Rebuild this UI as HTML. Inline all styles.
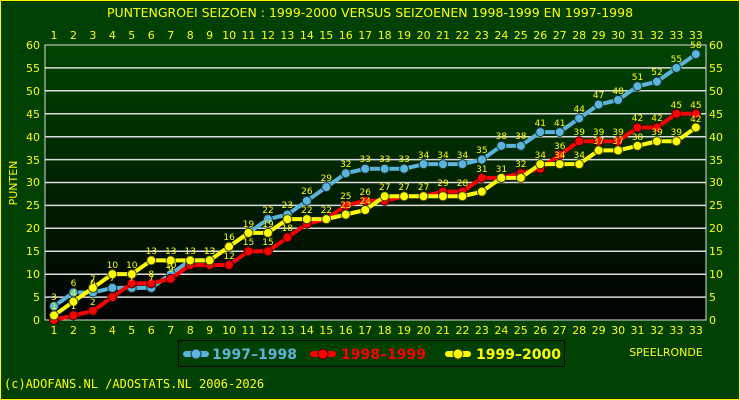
<!DOCTYPE html>
<html><head><meta charset="utf-8"><style>
body{margin:0;width:740px;height:400px;overflow:hidden;background:#004000}
svg{display:block}
text{font-family:"DejaVu Sans","Liberation Sans",sans-serif}
</style></head><body>
<svg width="740" height="400" xmlns="http://www.w3.org/2000/svg">
<defs><linearGradient id="g" x1="0" y1="0" x2="0" y2="1"><stop offset="0" stop-color="#004400"/><stop offset="1" stop-color="#000000"/></linearGradient></defs>
<rect x="0.5" y="0.5" width="739" height="399" fill="#004000" stroke="#ffff00"/>
<text x="370" y="17" fill="#ffff00" font-size="12.5" text-anchor="middle">PUNTENGROEI  SEIZOEN : 1999-2000 VERSUS SEIZOENEN 1998-1999 EN 1997-1998</text>
<rect x="45" y="45" width="661" height="275" fill="url(#g)" stroke="#dddddd"/>
<g stroke="#dddddd" stroke-width="1.5">
<line x1="45" x2="706" y1="297.1" y2="297.1"/><line x1="45" x2="706" y1="274.2" y2="274.2"/><line x1="45" x2="706" y1="251.25" y2="251.25"/><line x1="45" x2="706" y1="228.3" y2="228.3"/><line x1="45" x2="706" y1="205.4" y2="205.4"/><line x1="45" x2="706" y1="182.5" y2="182.5"/><line x1="45" x2="706" y1="159.6" y2="159.6"/><line x1="45" x2="706" y1="136.7" y2="136.7"/><line x1="45" x2="706" y1="113.75" y2="113.75"/><line x1="45" x2="706" y1="90.8" y2="90.8"/><line x1="45" x2="706" y1="67.9" y2="67.9"/>
</g>
<g fill="#ffff00" font-size="11" text-anchor="end">
<text x="40" y="324">0</text><text x="40" y="301">5</text><text x="40" y="278">10</text><text x="40" y="255">15</text><text x="40" y="232">20</text><text x="40" y="209">25</text><text x="40" y="186">30</text><text x="40" y="164">35</text><text x="40" y="141">40</text><text x="40" y="118">45</text><text x="40" y="95">50</text><text x="40" y="72">55</text><text x="40" y="49">60</text>
</g>
<g fill="#ffff00" font-size="11">
<text x="709" y="324">0</text><text x="709" y="301">5</text><text x="709" y="278">10</text><text x="709" y="255">15</text><text x="709" y="232">20</text><text x="709" y="209">25</text><text x="709" y="186">30</text><text x="709" y="164">35</text><text x="709" y="141">40</text><text x="709" y="118">45</text><text x="709" y="95">50</text><text x="709" y="72">55</text><text x="709" y="49">60</text>
</g>
<g fill="#ffff00" font-size="11" text-anchor="middle">
<text x="54" y="39">1</text><text x="73.5" y="39">2</text><text x="92.9" y="39">3</text><text x="112.4" y="39">4</text><text x="131.8" y="39">5</text><text x="151.3" y="39">6</text><text x="170.7" y="39">7</text><text x="190.2" y="39">8</text><text x="209.6" y="39">9</text><text x="229.1" y="39">10</text><text x="248.5" y="39">11</text><text x="268" y="39">12</text><text x="287.4" y="39">13</text><text x="306.9" y="39">14</text><text x="326.3" y="39">15</text><text x="345.8" y="39">16</text><text x="365.2" y="39">17</text><text x="384.7" y="39">18</text><text x="404.1" y="39">19</text><text x="423.6" y="39">20</text><text x="443" y="39">21</text><text x="462.5" y="39">22</text><text x="481.9" y="39">23</text><text x="501.4" y="39">24</text><text x="520.8" y="39">25</text><text x="540.3" y="39">26</text><text x="559.7" y="39">27</text><text x="579.2" y="39">28</text><text x="598.6" y="39">29</text><text x="618.1" y="39">30</text><text x="637.5" y="39">31</text><text x="657" y="39">32</text><text x="676.4" y="39">33</text><text x="695.9" y="39">33</text>
<text x="54" y="334">1</text><text x="73.5" y="334">2</text><text x="92.9" y="334">3</text><text x="112.4" y="334">4</text><text x="131.8" y="334">5</text><text x="151.3" y="334">6</text><text x="170.7" y="334">7</text><text x="190.2" y="334">8</text><text x="209.6" y="334">9</text><text x="229.1" y="334">10</text><text x="248.5" y="334">11</text><text x="268" y="334">12</text><text x="287.4" y="334">13</text><text x="306.9" y="334">14</text><text x="326.3" y="334">15</text><text x="345.8" y="334">16</text><text x="365.2" y="334">17</text><text x="384.7" y="334">18</text><text x="404.1" y="334">19</text><text x="423.6" y="334">20</text><text x="443" y="334">21</text><text x="462.5" y="334">22</text><text x="481.9" y="334">23</text><text x="501.4" y="334">24</text><text x="520.8" y="334">25</text><text x="540.3" y="334">26</text><text x="559.7" y="334">27</text><text x="579.2" y="334">28</text><text x="598.6" y="334">29</text><text x="618.1" y="334">30</text><text x="637.5" y="334">31</text><text x="657" y="334">32</text><text x="676.4" y="334">33</text><text x="695.9" y="334">33</text>
</g>
<text transform="translate(17,183) rotate(-90)" fill="#ffff00" font-size="11" text-anchor="middle">PUNTEN</text>
<text x="666" y="356" fill="#ffff00" font-size="11" text-anchor="middle">SPEELRONDE</text>

<g transform="translate(54,320) scale(19.45,-4.5833)" fill="none" stroke-linejoin="round">
<polyline vector-effect="non-scaling-stroke" stroke="#5ab4dc" stroke-width="4" points="0,3 1,6 2,6 3,7 4,7 5,7 6,10 7,13 8,13 9,16 10,19 11,22 12,23 13,26 14,29 15,32 16,33 17,33 18,33 19,34 20,34 21,34 22,35 23,38 24,38 25,41 26,41 27,44 28,47 29,48 30,51 31,52 32,55 33,58"/>
<path vector-effect="non-scaling-stroke" stroke="#1a3a3a" stroke-width="10" stroke-linecap="round" d="M0,3h0M1,6h0M2,6h0M3,7h0M4,7h0M5,7h0M6,10h0M7,13h0M8,13h0M9,16h0M10,19h0M11,22h0M12,23h0M13,26h0M14,29h0M15,32h0M16,33h0M17,33h0M18,33h0M19,34h0M20,34h0M21,34h0M22,35h0M23,38h0M24,38h0M25,41h0M26,41h0M27,44h0M28,47h0M29,48h0M30,51h0M31,52h0M32,55h0M33,58h0"/>
<path vector-effect="non-scaling-stroke" stroke="#5ab4dc" stroke-width="8" stroke-linecap="round" d="M0,3h0M1,6h0M2,6h0M3,7h0M4,7h0M5,7h0M6,10h0M7,13h0M8,13h0M9,16h0M10,19h0M11,22h0M12,23h0M13,26h0M14,29h0M15,32h0M16,33h0M17,33h0M18,33h0M19,34h0M20,34h0M21,34h0M22,35h0M23,38h0M24,38h0M25,41h0M26,41h0M27,44h0M28,47h0M29,48h0M30,51h0M31,52h0M32,55h0M33,58h0"/>
<polyline vector-effect="non-scaling-stroke" stroke="#ff0000" stroke-width="4" points="0,0 1,1 2,2 3,5 4,8 5,8 6,9 7,12 8,12 9,12 10,15 11,15 12,18 13,21 14,22 15,25 16,26 17,26 18,27 19,27 20,28 21,28 22,31 23,31 24,32 25,33 26,36 27,39 28,39 29,39 30,42 31,42 32,45 33,45"/>
<path vector-effect="non-scaling-stroke" stroke="#400000" stroke-width="10" stroke-linecap="round" d="M0,0h0M1,1h0M2,2h0M3,5h0M4,8h0M5,8h0M6,9h0M7,12h0M8,12h0M9,12h0M10,15h0M11,15h0M12,18h0M13,21h0M14,22h0M15,25h0M16,26h0M17,26h0M18,27h0M19,27h0M20,28h0M21,28h0M22,31h0M23,31h0M24,32h0M25,33h0M26,36h0M27,39h0M28,39h0M29,39h0M30,42h0M31,42h0M32,45h0M33,45h0"/>
<path vector-effect="non-scaling-stroke" stroke="#ff0000" stroke-width="8" stroke-linecap="round" d="M0,0h0M1,1h0M2,2h0M3,5h0M4,8h0M5,8h0M6,9h0M7,12h0M8,12h0M9,12h0M10,15h0M11,15h0M12,18h0M13,21h0M14,22h0M15,25h0M16,26h0M17,26h0M18,27h0M19,27h0M20,28h0M21,28h0M22,31h0M23,31h0M24,32h0M25,33h0M26,36h0M27,39h0M28,39h0M29,39h0M30,42h0M31,42h0M32,45h0M33,45h0"/>
<polyline vector-effect="non-scaling-stroke" stroke="#ffff00" stroke-width="4" points="0,1 1,4 2,7 3,10 4,10 5,13 6,13 7,13 8,13 9,16 10,19 11,19 12,22 13,22 14,22 15,23 16,24 17,27 18,27 19,27 20,27 21,27 22,28 23,31 24,31 25,34 26,34 27,34 28,37 29,37 30,38 31,39 32,39 33,42"/>
<path vector-effect="non-scaling-stroke" stroke="#404000" stroke-width="10" stroke-linecap="round" d="M0,1h0M1,4h0M2,7h0M3,10h0M4,10h0M5,13h0M6,13h0M7,13h0M8,13h0M9,16h0M10,19h0M11,19h0M12,22h0M13,22h0M14,22h0M15,23h0M16,24h0M17,27h0M18,27h0M19,27h0M20,27h0M21,27h0M22,28h0M23,31h0M24,31h0M25,34h0M26,34h0M27,34h0M28,37h0M29,37h0M30,38h0M31,39h0M32,39h0M33,42h0"/>
<path vector-effect="non-scaling-stroke" stroke="#ffff00" stroke-width="8" stroke-linecap="round" d="M0,1h0M1,4h0M2,7h0M3,10h0M4,10h0M5,13h0M6,13h0M7,13h0M8,13h0M9,16h0M10,19h0M11,19h0M12,22h0M13,22h0M14,22h0M15,23h0M16,24h0M17,27h0M18,27h0M19,27h0M20,27h0M21,27h0M22,28h0M23,31h0M24,31h0M25,34h0M26,34h0M27,34h0M28,37h0M29,37h0M30,38h0M31,39h0M32,39h0M33,42h0"/>
</g>

<g fill="#ffff00" font-size="9" text-anchor="middle">
<text x="54" y="300">3</text><text x="73.5" y="286">6</text><text x="92.9" y="286">6</text><text x="112.4" y="281">7</text><text x="131.8" y="281">7</text><text x="151.3" y="281">7</text><text x="170.7" y="268">10</text><text x="190.2" y="254">13</text><text x="209.6" y="254">13</text><text x="229.1" y="240">16</text><text x="248.5" y="227">19</text><text x="268" y="213">22</text><text x="287.4" y="208">23</text><text x="306.9" y="194">26</text><text x="326.3" y="181">29</text><text x="345.8" y="167">32</text><text x="365.2" y="162">33</text><text x="384.7" y="162">33</text><text x="404.1" y="162">33</text><text x="423.6" y="158">34</text><text x="443" y="158">34</text><text x="462.5" y="158">34</text><text x="481.9" y="153">35</text><text x="501.4" y="139">38</text><text x="520.8" y="139">38</text><text x="540.3" y="126">41</text><text x="559.7" y="126">41</text><text x="579.2" y="112">44</text><text x="598.6" y="98">47</text><text x="618.1" y="94">48</text><text x="637.5" y="80">51</text><text x="657" y="75">52</text><text x="676.4" y="62">55</text><text x="695.9" y="48">58</text>
<text x="73.5" y="309">1</text><text x="92.9" y="305">2</text><text x="151.3" y="277">8</text><text x="170.7" y="272">9</text><text x="229.1" y="259">12</text><text x="248.5" y="245">15</text><text x="268" y="245">15</text><text x="287.4" y="231">18</text><text x="345.8" y="199">25</text><text x="365.2" y="195">26</text><text x="443" y="186">29</text><text x="462.5" y="186">28</text><text x="481.9" y="172">31</text><text x="520.8" y="167">32</text><text x="559.7" y="149">36</text><text x="579.2" y="135">39</text><text x="598.6" y="135">39</text><text x="618.1" y="135">39</text><text x="637.5" y="121">42</text><text x="657" y="121">42</text><text x="676.4" y="108">45</text><text x="695.9" y="108">45</text>
<text x="54" y="309">1</text><text x="73.5" y="296">4</text><text x="92.9" y="282">7</text><text x="112.4" y="268">10</text><text x="131.8" y="268">10</text><text x="151.3" y="254">13</text><text x="170.7" y="254">13</text><text x="209.6" y="254">13</text><text x="268" y="227">19</text><text x="306.9" y="213">22</text><text x="326.3" y="213">22</text><text x="345.8" y="208">23</text><text x="365.2" y="204">24</text><text x="384.7" y="190">27</text><text x="404.1" y="190">27</text><text x="423.6" y="190">27</text><text x="501.4" y="172">31</text><text x="540.3" y="158">34</text><text x="559.7" y="158">34</text><text x="579.2" y="158">34</text><text x="598.6" y="144">37</text><text x="618.1" y="144">37</text><text x="637.5" y="140">38</text><text x="657" y="135">39</text><text x="676.4" y="135">39</text><text x="695.9" y="122">42</text>
</g>

<rect x="178.5" y="340.5" width="386" height="26" fill="#004000" stroke="#000"/>
<g stroke-linecap="round">
<line x1="186" x2="206" y1="354" y2="354" stroke="#5ab4dc" stroke-width="6"/><circle cx="196" cy="354" r="5" fill="#5ab4dc" stroke="#1a3a3a"/>
<line x1="313" x2="333" y1="354" y2="354" stroke="#ff0000" stroke-width="6"/><circle cx="323" cy="354" r="5" fill="#ff0000" stroke="#400000"/>
<line x1="448" x2="468" y1="354" y2="354" stroke="#ffff00" stroke-width="6"/><circle cx="458" cy="354" r="5" fill="#ffff00" stroke="#404000"/>
</g>
<g font-size="14" font-weight="bold">
<text x="212" y="359" fill="#5ab4dc">1997–1998</text>
<text x="341" y="359" fill="#ff0000">1998–1999</text>
<text x="476" y="359" fill="#ffff00">1999–2000</text>
</g>
<text x="4" y="388" fill="#ffff00" font-size="12" style="font-family:'DejaVu Sans Mono','Liberation Mono',monospace">(c)ADOFANS.NL /ADOSTATS.NL 2006-2026</text>
</svg>
</body></html>
